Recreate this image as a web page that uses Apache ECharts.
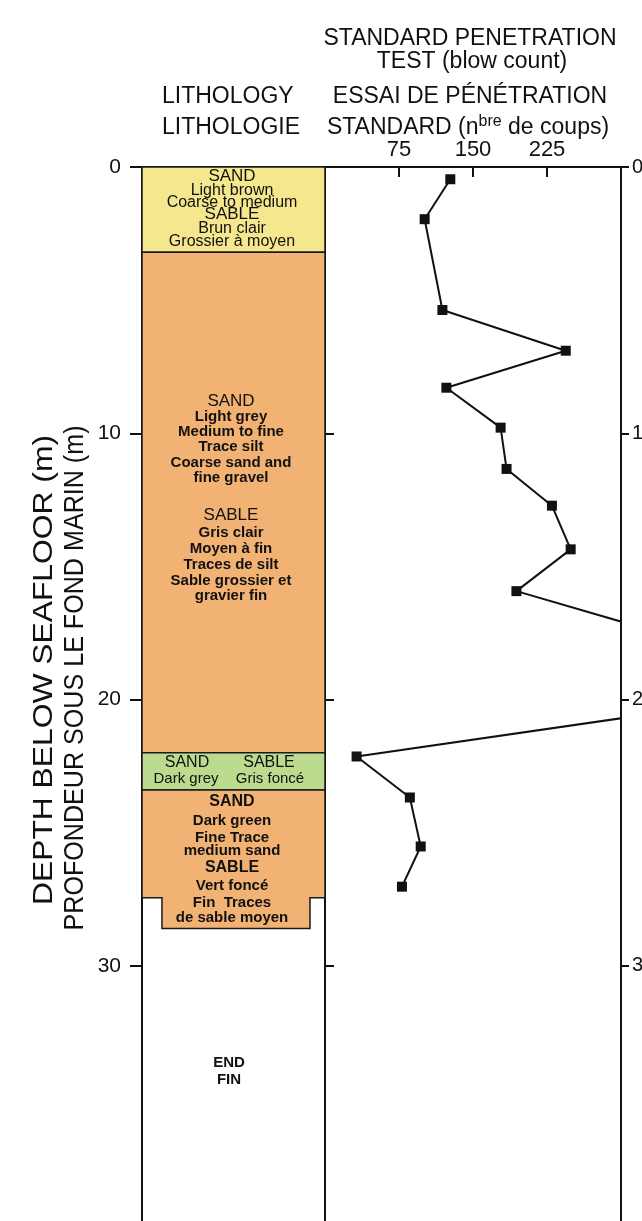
<!DOCTYPE html>
<html><head><meta charset="utf-8">
<script src="https://cdn.jsdelivr.net/npm/echarts@6/dist/echarts.min.js"></script>
<style>html,body{margin:0;padding:0;background:#fff}#c{width:642px;height:1221px}</style>
</head><body><div id="c"></div>
<script>
// ---------- DATA ----------
const depthTicks = [0, 10, 20, 30, 40];          // depth axis (m)
const blowTicks = [75, 150, 225];               // SPT axis labels
const sptDepth = [0.46, 1.96, 5.37, 6.90, 8.29, 9.79, 11.34, 12.72, 14.36, 15.93, 19.5, 22.14, 23.68, 25.52, 27.03];
const sptBlows = [127, 101, 119, 244, 123, 178, 184, 230, 249, 194, 525, 32, 86, 97, 78];
const layerTop    = [0, 3.2, 22.0, 23.4];
const layerBottom = [3.2, 22.0, 23.4, 28.6];
const layerType   = ['yellow', 'orange', 'green', 'orange'];
const shoeTop = 27.45;                           // depth where the core shoe begins
const textYellow = ['SAND', 'Light brown', 'Coarse to medium', 'SABLE', 'Brun clair', 'Grossier à moyen'];
const textOrange = ['SAND', 'Light grey', 'Medium to fine', 'Trace silt', 'Coarse sand and', 'fine gravel',
                    'SABLE', 'Gris clair', 'Moyen à fin', 'Traces de silt', 'Sable grossier et', 'gravier fin'];
const textGreen = ['SAND', 'SABLE', 'Dark grey', 'Gris foncé'];
const textLower = ['SAND', 'Dark green', 'Fine Trace', 'medium sand', 'SABLE', 'Vert foncé', 'Fin  Traces', 'de sable moyen'];
const textEnd = ['END', 'FIN'];

// ---------- STYLE ----------
const FONT = '"Liberation Sans", Arial, Helvetica, sans-serif';
const INK = '#111';
const layerColors = { yellow: '#f5e78e', orange: '#f1b274', green: '#bcdb8e' };
const SHOE_L = 0.109, SHOE_R = 0.918;

const mctx = document.createElement('canvas').getContext('2d');
function measure(s, size, weight) { mctx.font = (weight || 'normal') + ' ' + size + 'px ' + FONT; return mctx.measureText(s).width; }

function T(x, y, s, size, weight, align, extra) {
  return Object.assign({
    type: 'text', x: x, y: y, silent: true, z: 100,
    style: { text: s, fontFamily: FONT, fontSize: size, fontWeight: weight || 'normal', fill: INK,
             align: align || 'center', verticalAlign: 'middle' }
  }, extra || {});
}

const graphics = [];
// headers
graphics.push(T(470, 39, 'STANDARD PENETRATION', 23));
graphics.push(T(472, 62, 'TEST (blow count)', 23));
graphics.push(T(162, 97, 'LITHOLOGY', 23, 'normal', 'left'));
graphics.push(T(470, 97, 'ESSAI DE PÉNÉTRATION', 23));
graphics.push(T(162, 128, 'LITHOLOGIE', 23, 'normal', 'left'));
graphics.push({
  type: 'text', x: 468, y: 128, silent: true, z: 100,
  style: { text: 'STANDARD (n{s|bre} de coups)', fontFamily: FONT, fontSize: 23, fill: INK,
           align: 'center', verticalAlign: 'middle',
           rich: { s: { fontFamily: FONT, fontSize: 16, fill: INK, padding: [0, 0, 12, 0] } } }
});
// y axis titles (rotated, fitted to reference length)
function rotTitle(x, yc, s, size, len) {
  const sc = len / measure(s, size);
  return T(x, yc, s, size, 'normal', 'center', { rotation: Math.PI / 2, scaleX: sc });
}
graphics.push(rotTitle(44, 670, 'DEPTH BELOW SEAFLOOR (m)', 28, 470));
graphics.push(rotTitle(75, 678, 'PROFONDEUR SOUS LE FOND MARIN (m)', 28, 505));

// lithology texts
const yY = [176.5, 191, 202.5, 214.5, 228.5, 241.5];
textYellow.forEach((s, i) => graphics.push(T(232, yY[i], s, (i === 0 || i === 3) ? 17 : 16)));
const yO = [401.5, 417, 432, 447, 462.5, 477.5, 515.5, 533, 548.5, 565, 580.5, 596];
textOrange.forEach((s, i) => graphics.push(T(231, yO[i], s, (i === 0 || i === 6) ? 17 : 15, (i === 0 || i === 6) ? 'normal' : 'bold')));
graphics.push(T(187, 763, textGreen[0], 16));
graphics.push(T(269, 763, textGreen[1], 16));
graphics.push(T(186, 779, textGreen[2], 15));
graphics.push(T(270, 779, textGreen[3], 15));
const yL = [801.5, 820.5, 837.5, 851, 868, 885.5, 902.5, 918];
textLower.forEach((s, i) => graphics.push(T(232, yL[i], s, (i === 0 || i === 4) ? 16 : 15, 'bold')));
graphics.push(T(229, 1063, textEnd[0], 15, 'bold'));
graphics.push(T(229, 1079.5, textEnd[1], 15, 'bold'));

// ---------- CHART ----------
const axisLine = { show: true, onZero: false, lineStyle: { color: INK, width: 2 } };
const tickStyle = { color: INK, width: 2 };

function renderLayer(params, api) {
  const i = api.value(0);
  const p0 = api.coord([0, layerTop[i]]);
  const p1 = api.coord([1, layerBottom[i]]);
  let pts;
  if (i === layerTop.length - 1) {
    const ys = api.coord([0, shoeTop])[1];
    const xl = api.coord([SHOE_L, 0])[0], xr = api.coord([SHOE_R, 0])[0];
    pts = [[p0[0], p0[1]], [p1[0], p0[1]], [p1[0], ys], [xr, ys], [xr, p1[1]], [xl, p1[1]], [xl, ys], [p0[0], ys]];
  } else {
    pts = [[p0[0], p0[1]], [p1[0], p0[1]], [p1[0], p1[1]], [p0[0], p1[1]]];
  }
  return { type: 'polygon', shape: { points: pts },
           style: { fill: layerColors[layerType[i]], stroke: '#1a1a1a', lineWidth: 1.5 } };
}

const chart = echarts.init(document.getElementById('c'), null, { renderer: 'canvas' });
chart.setOption({
  animation: false,
  backgroundColor: '#fff',
  grid: [
    { left: 142, top: 167, width: 183, height: 1065, outerBoundsMode: 'none' },
    { left: 325, top: 167, width: 296, height: 1065, outerBoundsMode: 'none' }
  ],
  xAxis: [
    { gridIndex: 0, type: 'value', min: 0, max: 1, position: 'top', axisLine: axisLine,
      axisTick: { show: false }, axisLabel: { show: false }, splitLine: { show: false } },
    { gridIndex: 1, type: 'value', min: 0, max: 300, interval: 75, position: 'top', axisLine: axisLine,
      axisTick: { show: true, inside: true, length: 10, lineStyle: tickStyle },
      axisLabel: { fontFamily: FONT, fontSize: 22, color: INK, margin: 6,
                   formatter: v => blowTicks.indexOf(v) >= 0 ? String(v) : '' },
      splitLine: { show: false } }
  ],
  yAxis: [
    { gridIndex: 0, type: 'value', inverse: true, min: depthTicks[0], max: depthTicks[depthTicks.length - 1], interval: 10,
      position: 'left', axisLine: axisLine,
      axisTick: { show: true, length: 12, lineStyle: tickStyle },
      axisLabel: { fontFamily: FONT, fontSize: 21, color: INK, margin: 21 },
      splitLine: { show: false } },
    { gridIndex: 1, type: 'value', inverse: true, min: 0, max: 40, interval: 10, position: 'left', axisLine: axisLine,
      axisTick: { show: true, inside: true, length: 9, lineStyle: tickStyle },
      axisLabel: { show: false }, splitLine: { show: false } },
    { gridIndex: 1, type: 'value', inverse: true, min: 0, max: 40, interval: 10, position: 'right', axisLine: axisLine,
      axisTick: { show: true, length: 8, lineStyle: tickStyle },
      axisLabel: { fontFamily: FONT, fontSize: 20, color: INK, margin: 11 },
      splitLine: { show: false } }
  ],
  series: [
    { type: 'custom', xAxisIndex: 0, yAxisIndex: 0, renderItem: renderLayer, silent: true,
      data: layerTop.map((t, i) => [i, t, layerBottom[i]]), encode: { x: -1, y: [1, 2] }, z: 1 },
    { type: 'line', xAxisIndex: 1, yAxisIndex: 1, clip: true, silent: true,
      data: sptBlows.map((b, i) => [b, sptDepth[i]]),
      symbol: 'rect', symbolSize: 10, showAllSymbol: true,
      lineStyle: { color: INK, width: 2 }, itemStyle: { color: INK }, z: 3 }
  ],
  graphic: graphics
});
</script></body></html>
